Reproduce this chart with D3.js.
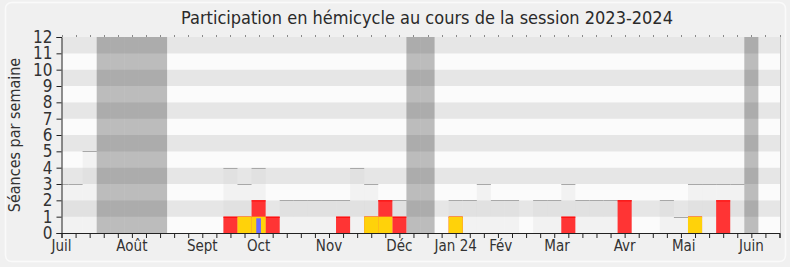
<!DOCTYPE html>
<html><head><meta charset="utf-8">
<script src="https://cdn.jsdelivr.net/npm/d3@7"></script>
<style>
html,body{margin:0;padding:0;background:#f0f0f0;}
svg{display:block;}
text{font-family:"DejaVu Sans Condensed","DejaVu Sans",sans-serif;}
</style></head>
<body>
<svg id="c" width="790" height="267"></svg>
<script>
// ---- data ----
const title = "Participation en hémicycle au cours de la session 2023-2024";
const yLabel = "Séances par semaine";
const nWeeks = 52;
const yTicks = [0,1,2,3,4,5,6,7,8,9,10,11,12];
const monthLabels = ["Juil","Août","Sept","Oct","Nov","Déc","Jan 24","Fév","Mar","Avr","Mai","Juin"];
const monthWeeks  = [0, 5, 10, 14, 19, 24, 28, 31.2, 35.2, 40, 44.2, 49];
const vacationWeeks = [3,4,5,6,7,25,26,49];
// median of deputies (null = no session)
const medianWeek = [3,3,5,null,null,null,null,null,null,null,null,null,4,3,4,1,2,2,2,2,2,4,3,2,2,null,null,null,2,2,3,2,2,null,2,2,3,2,2,2,2,null,null,2,1,3,3,3,3,null,null,null];
// présences (red)
const presenceWeeks  = [12,13,14,15,20,22,23,24,28,36,40,45,47];
const presenceValues = [1, 1, 2, 1, 1, 1, 2, 1, 1, 1, 2, 1, 2];
// participations (yellow)
const participWeeks  = [13,14,22,23,28,45];
const participValues = [1, 1, 1, 1, 1, 1];
// questions (blue)
const questionWeeks  = [14];
const questionValues = [0.9];

// ---- chart ----
const svg = d3.select("#c");
const W = 790, H = 267;
const x = d3.scaleLinear().domain([0, nWeeks-1]).range([61.5, 779.5]);
const y = d3.scaleLinear().domain([0, 12]).range([233, 37]);
const step = x(1) - x(0);
const L = x(0), R = 780, T = y(12), B = y(0);

// frame
svg.append("rect").attr("x",0).attr("y",0).attr("width",W).attr("height",H).attr("fill","#f0f0f0");
svg.append("rect").attr("x",5.5).attr("y",2.5).attr("width",780).attr("height",259).attr("rx",6)
  .attr("fill","#f0f0f0").attr("stroke","#fafafa").attr("stroke-width",1.5);

svg.append("defs").append("clipPath").attr("id","plot").append("rect")
  .attr("x",L).attr("y",T).attr("width",R-L).attr("height",B-T);
const g = svg.append("g").attr("clip-path","url(#plot)");

// stripes
g.selectAll("rect.band").data(d3.range(12)).join("rect").attr("class","band")
  .attr("x",L).attr("width",R-L)
  .attr("y",d=>y(d+1)).attr("height",d=>y(d)-y(d+1))
  .attr("fill",d=> d%2===0 ? "#fbfbfb" : "#e6e6e6");

// median areas
const med = medianWeek.map((v,i)=>({i,v})).filter(d=>d.v!=null);
g.selectAll("rect.med").data(med).join("rect").attr("class","med")
  .attr("x",d=>x(d.i-0.5)).attr("width",step)
  .attr("y",d=>y(d.v)).attr("height",d=>y(0)-y(d.v))
  .attr("fill","#c8c8c8").attr("fill-opacity",0.17);
g.selectAll("line.med").data(med).join("line").attr("class","med")
  .attr("x1",d=>x(d.i-0.5)).attr("x2",d=>x(d.i+0.5))
  .attr("y1",d=>Math.round(y(d.v))+0.5).attr("y2",d=>Math.round(y(d.v))+0.5)
  .attr("stroke","#a8a8a8").attr("stroke-width",1);

// vacations
g.selectAll("rect.vac").data(vacationWeeks).join("rect").attr("class","vac")
  .attr("x",d=>x(d-0.5)).attr("width",step)
  .attr("y",T).attr("height",B-T)
  .attr("fill","#000").attr("fill-opacity",0.25);

// presence bars
const pres = presenceWeeks.map((w,k)=>({w,v:presenceValues[k]}));
g.selectAll("rect.pres").data(pres).join("rect").attr("class","pres")
  .attr("x",d=>x(d.w-0.5)).attr("width",step)
  .attr("y",d=>y(d.v)).attr("height",d=>y(0)-y(d.v))
  .attr("fill","#ff3434");
g.selectAll("line.pres").data(pres).join("line").attr("class","pres")
  .attr("x1",d=>x(d.w-0.5)).attr("x2",d=>x(d.w+0.5))
  .attr("y1",d=>y(d.v)+0.5).attr("y2",d=>y(d.v)+0.5)
  .attr("stroke","#ff0000").attr("stroke-width",1);

// participation bars
const part = participWeeks.map((w,k)=>({w,v:participValues[k]}));
g.selectAll("rect.part").data(part).join("rect").attr("class","part")
  .attr("x",d=>x(d.w-0.5)).attr("width",step)
  .attr("y",d=>y(d.v)).attr("height",d=>y(0)-y(d.v))
  .attr("fill","#ffd20a");

// question bars
const qs = questionWeeks.map((w,k)=>({w,v:questionValues[k]}));
g.selectAll("rect.q").data(qs).join("rect").attr("class","q")
  .attr("x",d=>x(d.w-1/6)).attr("width",step/3)
  .attr("y",d=>y(d.v)).attr("height",d=>y(0)-y(d.v))
  .attr("fill","#6b6bff");

// plot right border
svg.append("line").attr("x1",R+0.5).attr("x2",R+0.5).attr("y1",T).attr("y2",B)
  .attr("stroke","#c8c8c8");

// top dotted ticks
svg.selectAll("rect.dot").data(d3.range(nWeeks)).join("rect").attr("class","dot")
  .attr("x",d=>Math.round(x(d))).attr("y",T-1.5).attr("width",1).attr("height",1)
  .attr("fill","#222");

// y axis
const yAxis = svg.append("g").attr("transform",`translate(${L},0)`)
  .call(d3.axisLeft(y).tickValues(yTicks).tickSize(5).tickPadding(4).tickFormat(d3.format("d")));
yAxis.select(".domain").attr("stroke","#222");
yAxis.selectAll(".tick line").attr("stroke","#222");
yAxis.selectAll("text").attr("font-size",17).attr("fill","#333")
  .style("font-family",'"DejaVu Sans Condensed","DejaVu Sans",sans-serif');

// x axis
const xAxis = svg.append("g").attr("transform",`translate(0,${B})`)
  .call(d3.axisBottom(x).tickValues(d3.range(nWeeks)).tickSize(5).tickFormat(""));
xAxis.select(".domain").attr("stroke","#222");
xAxis.selectAll(".tick line").attr("stroke","#222");

svg.selectAll("text.month").data(monthLabels).join("text").attr("class","month")
  .attr("x",(d,i)=>x(monthWeeks[i])).attr("y",251)
  .attr("text-anchor","middle").attr("font-size",15).attr("fill","#333")
  .text(d=>d);

// title
svg.append("text").attr("x",427).attr("y",24).attr("text-anchor","middle")
  .attr("font-size",18).attr("fill","#2a2a2a").text(title);

// y label
svg.append("text").attr("transform",`translate(20,${(T+B)/2}) rotate(-90)`)
  .attr("text-anchor","middle").attr("font-size",16).attr("fill","#333").text(yLabel);
</script>
</body></html>
